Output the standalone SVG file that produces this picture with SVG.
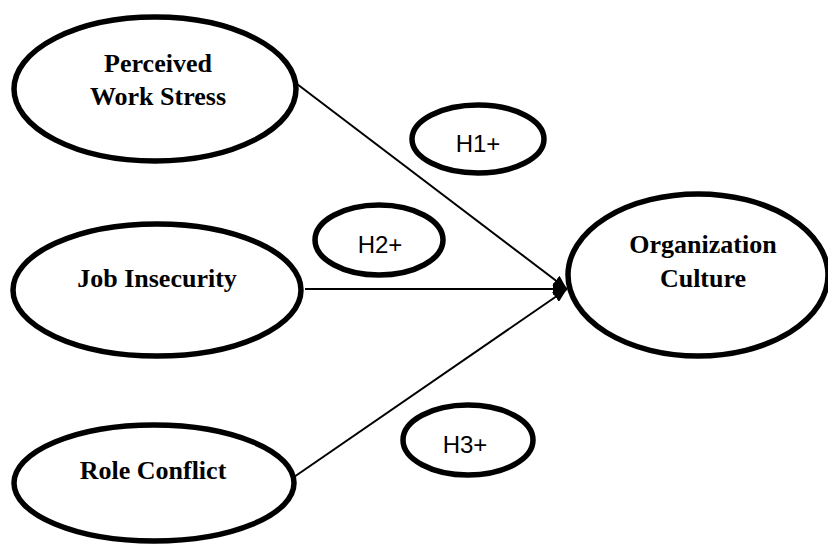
<svg xmlns="http://www.w3.org/2000/svg" width="828" height="545" viewBox="0 0 828 545">
  <style>
    .big { fill: #fff; stroke: #000; stroke-width: 5.5; }
    .small { fill: #fff; stroke: #000; stroke-width: 5.5; }
    .lbl { font-family: "Liberation Serif", "Times New Roman", serif; font-weight: bold; font-size: 26px; fill: #000; text-anchor: middle; }
    .h { font-family: "Liberation Sans", Arial, sans-serif; font-size: 24px; fill: #000; text-anchor: middle; }
    .conn { stroke: #000; stroke-width: 2; fill: none; }
  </style>
  <defs>
    <marker id="arr" viewBox="0 0 14 12" refX="14" refY="6" markerWidth="14" markerHeight="12" markerUnits="userSpaceOnUse" orient="auto">
      <path d="M0,0 L14,6 L0,12 z" fill="#000"/>
    </marker>
  </defs>
  <rect width="828" height="545" fill="#fff"/>
  <g id="connectors">
    <line class="conn" x1="297" y1="84" x2="567" y2="289" marker-end="url(#arr)"/>
    <line class="conn" x1="305" y1="289" x2="567" y2="289" marker-end="url(#arr)"/>
    <line class="conn" x1="294" y1="477" x2="567" y2="289" marker-end="url(#arr)"/>
  </g>
  <g id="perceived-work-stress">
    <ellipse class="big" cx="155" cy="89" rx="141" ry="72"/>
    <text class="lbl" x="158" y="72">Perceived</text>
    <text class="lbl" x="158" y="105">Work Stress</text>
  </g>
  <g id="job-insecurity">
    <ellipse class="big" cx="157" cy="290" rx="144" ry="66"/>
    <text class="lbl" x="157" y="287">Job Insecurity</text>
  </g>
  <g id="role-conflict">
    <ellipse class="big" cx="154" cy="483" rx="140" ry="58"/>
    <text class="lbl" x="153" y="479">Role Conflict</text>
  </g>
  <g id="organization-culture">
    <ellipse class="big" cx="698" cy="275" rx="130" ry="81"/>
    <text class="lbl" x="703" y="253">Organization</text>
    <text class="lbl" x="703" y="287">Culture</text>
  </g>
  <g id="h1">
    <ellipse class="small" cx="478" cy="139" rx="66" ry="34"/>
    <text class="h" x="478" y="152">H1+</text>
  </g>
  <g id="h2">
    <ellipse class="small" cx="379" cy="240" rx="64" ry="35"/>
    <text class="h" x="380" y="253">H2+</text>
  </g>
  <g id="h3">
    <ellipse class="small" cx="468" cy="440" rx="65" ry="35"/>
    <text class="h" x="465" y="453">H3+</text>
  </g>
</svg>
